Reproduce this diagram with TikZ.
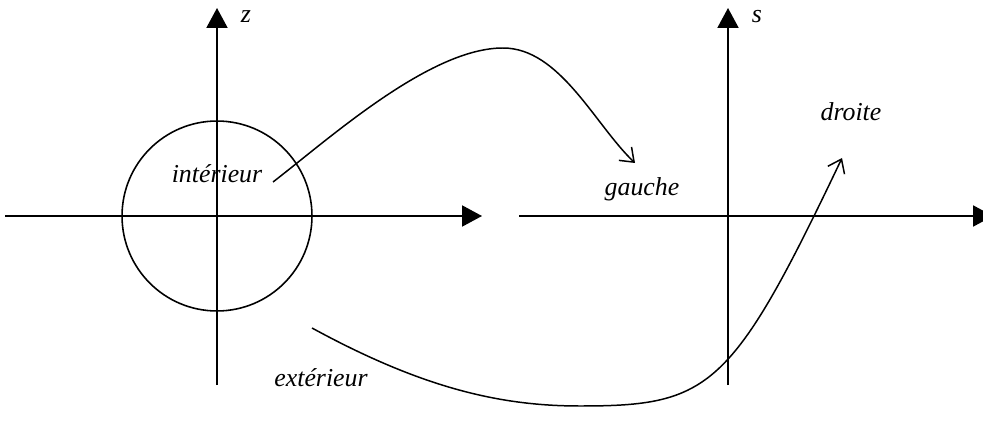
\documentclass[tikz,border=0pt]{standalone}
\usepackage{fontspec}
\setmainfont{Liberation Serif}
\usetikzlibrary{arrows.meta}

\tikzset{
  axis/.style={line width=1.1pt, -{Triangle[length=11.3pt,width=11.9pt]}},
  mapcurve/.style={line width=0.85pt, -{Straight Barb[length=7pt,width=10.5pt]}},
  lbl/.style={font=\fontsize{14.7}{17}\selectfont\itshape, inner sep=0pt}
}

\begin{document}
\begin{tikzpicture}[x=0.02cm, y=-0.02cm]
  \useasboundingbox (0,0) rectangle (983,432);

  % z plane (left)
  \coordinate (Zw) at (5,216);
  \coordinate (Ze) at (482,216);
  \coordinate (Zs) at (217,385);
  \coordinate (Zn) at (217,8);
  \coordinate (Zo) at (217,216);
  \draw[axis] (Zw) -- (Ze);
  \draw[axis] (Zs) -- (Zn);
  \draw[line width=0.9pt] (Zo) circle[radius=1.9cm];
  \node[lbl] (zlab) at (246,17) {z};

  % s plane (right)
  \coordinate (Sw) at (519,216);
  \coordinate (Se) at (993,216);
  \coordinate (Ss) at (728,385);
  \coordinate (Sn) at (728,8);
  \draw[axis] (Sw) -- (Se);
  \draw[axis] (Ss) -- (Sn);
  \node[lbl] (slab) at (757,17) {s};

  % region labels
  \node[lbl] (inter) at (217,174) {intérieur};
  \node[lbl] (exter) at (321,378) {extérieur};
  \node[lbl] (left)  at (642,189) {gauche};
  \node[lbl] (right) at (851,112) {droite};

  % interior -> left half
  \coordinate (in0) at (273,182);
  \coordinate (in1) at (635,163);
  \draw[mapcurve] (in0) .. controls (330,138) and (430,48) .. (503,48)
    .. controls (560,48) and (595,125) .. (in1);

  % exterior -> right half
  \coordinate (ex0) at (312,328);
  \coordinate (ex1) at (842,158);
  \draw[mapcurve] (ex0) .. controls (422,388) and (500,406) .. (580,406)
    .. controls (710,406) and (732,389) .. (ex1);
\end{tikzpicture}
\end{document}
